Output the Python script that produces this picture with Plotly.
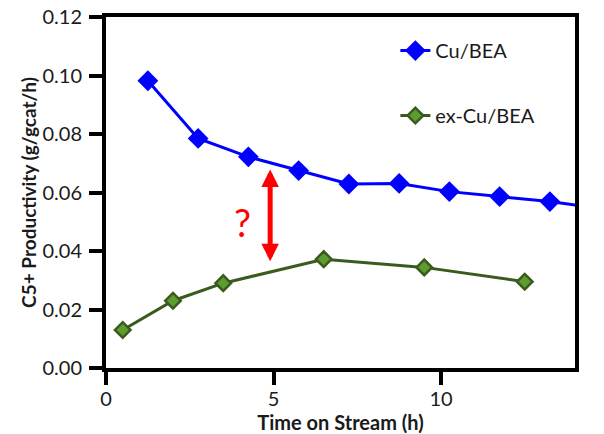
import plotly.graph_objects as go

# Data
cu_time = [1.25, 2.75, 4.25, 5.75, 7.25, 8.75, 10.25, 11.75, 13.25, 14.75]
cu_prod = [0.0982, 0.0785, 0.0722, 0.0675, 0.0629, 0.0631, 0.0603, 0.0586, 0.0569, 0.0546]

ex_time = [0.5, 2.0, 3.5, 6.5, 9.5, 12.5]
ex_prod = [0.0130, 0.0230, 0.0290, 0.0372, 0.0344, 0.0295]

arrow_x = 4.9
arrow_top = 0.0679
arrow_bottom = 0.0360
q_x, q_y = 4.07, 0.0500

x_ticks = [0, 5, 10]
y_ticks = [0.00, 0.02, 0.04, 0.06, 0.08, 0.10, 0.12]

FONT = "Lato"
TXT = "#1a1a1a"

fig = go.Figure()
fig.add_trace(go.Scatter(
    x=cu_time, y=cu_prod, mode="lines+markers", name="Cu/BEA",
    legendgroup="a",
    line=dict(color="#0000FF", width=3),
    marker=dict(symbol="diamond", size=16, color="#0000FF",
                line=dict(width=0)),
))
fig.add_trace(go.Scatter(
    x=ex_time, y=ex_prod, mode="lines+markers", name="ex-Cu/BEA",
    legendgroup="b",
    line=dict(color="#3A5A1E", width=3),
    marker=dict(symbol="diamond", size=12, color="#5E9C2F",
                line=dict(width=2.5, color="#3A5A1E")),
))

# Double-headed red arrow
fig.add_annotation(
    x=arrow_x, y=arrow_top, ax=arrow_x, ay=arrow_bottom,
    xref="x", yref="y", axref="x", ayref="y",
    text="", showarrow=True, arrowhead=2, startarrowhead=2,
    arrowside="end+start", arrowcolor="#FF0000", arrowwidth=5,
    arrowsize=0.7, startarrowsize=0.7,
)
fig.add_annotation(
    x=q_x, y=q_y, xref="x", yref="y", text="?", showarrow=False,
    font=dict(family=FONT, size=38, color="#FF0000"),
)

axis_common = dict(
    showline=True, linecolor="black", linewidth=4, mirror=True,
    ticks="outside", ticklen=13, tickwidth=4, tickcolor="black",
    showgrid=False, zeroline=False, automargin=False,
    ticklabeloverflow="allow",
    tickfont=dict(family=FONT, size=20, color=TXT),
)

fig.update_xaxes(
    range=[0, 14], tickvals=x_ticks,
    ticklabelstandoff=-3,
    title=dict(text="<b>Time on Stream (h)</b>", standoff=0,
               font=dict(family=FONT, size=20, color=TXT)),
    **axis_common,
)
fig.update_yaxes(
    range=[0, 0.12], tickvals=y_ticks, tickformat=".2f",
    ticklabelstandoff=3,
    title=dict(text="<b>C5+ Productivity (g/gcat/h)</b>", standoff=2,
               font=dict(family=FONT, size=19, color=TXT)),
    **axis_common,
)

fig.update_layout(
    template="none",
    width=604, height=434,
    margin=dict(l=106, r=29, t=17, b=66, autoexpand=False),
    plot_bgcolor="white", paper_bgcolor="white",
    showlegend=True,
    legend=dict(
        x=0.617, y=0.96, xanchor="left", yanchor="top",
        traceorder="grouped", tracegroupgap=36,
        font=dict(family=FONT, size=20, color=TXT),
        bgcolor="rgba(0,0,0,0)", borderwidth=0,
    ),
)

# Remove the default 8 px page margin so the figure fills the window
fig.write_html("out.html",
               config={"displayModeBar": False},
               post_script="document.body.style.margin='0';")
